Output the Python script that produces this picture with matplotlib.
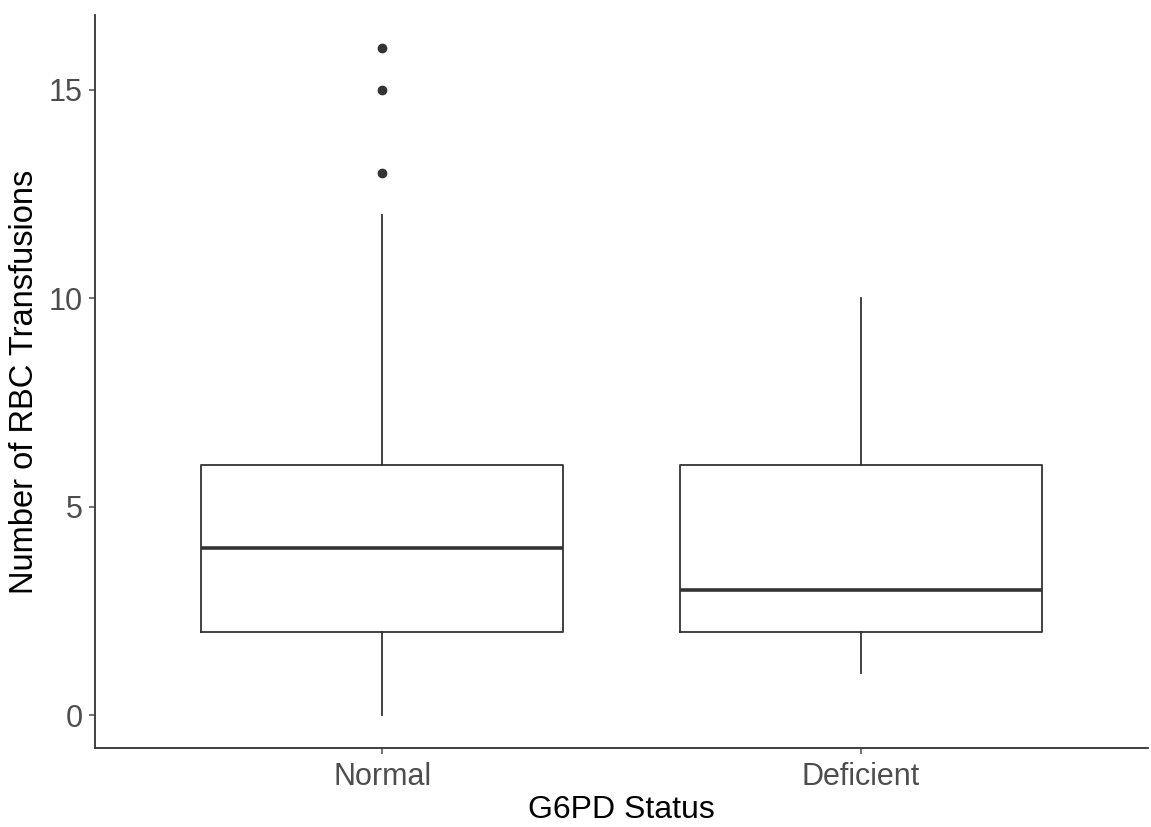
import matplotlib
matplotlib.use("Agg")
import matplotlib.pyplot as plt

# G6PD status groups and the boxplot summary
groups = ["Normal", "Deficient"]
whisker_low = [0, 1]
q1 = [2, 2]
medians = [4, 3]
q3 = [6, 6]
whisker_high = [12, 10]
outliers = [[13, 15, 16], []]

y_ticks = [0, 5, 10, 15]

plt.rcParams['font.family'] = ['Liberation Sans', 'DejaVu Sans']

fig = plt.figure(figsize=(11.51, 8.27), dpi=100)
ax = fig.add_axes([0.0825, 0.0955, 0.915, 0.8865])

stats = []
for i, name in enumerate(groups):
    stats.append({
        "label": name,
        "whislo": whisker_low[i],
        "q1": q1[i],
        "med": medians[i],
        "q3": q3[i],
        "whishi": whisker_high[i],
        "fliers": outliers[i],
    })

line_col = "#333333"
ax.bxp(stats, positions=[1, 2], widths=0.757, showcaps=False,
       boxprops=dict(color=line_col, linewidth=1.3),
       whiskerprops=dict(color=line_col, linewidth=1.3),
       medianprops=dict(color=line_col, linewidth=2.6),
       flierprops=dict(marker='o', markerfacecolor=line_col,
                       markeredgecolor=line_col, markersize=6))

ax.set_xlim(0.4, 2.6)
ax.set_ylim(-0.79, 16.8)
ax.set_yticks(y_ticks)
ax.set_xticks([1, 2])
ax.set_xticklabels(groups)

for s in ["top", "right"]:
    ax.spines[s].set_visible(False)
for s in ["left", "bottom"]:
    ax.spines[s].set_color("#333333")
    ax.spines[s].set_linewidth(1.3)

ax.tick_params(axis='both', labelsize=22, colors="#4D4D4D", length=4, width=1.1)
ax.tick_params(axis='x', pad=6)
ax.tick_params(axis='y', pad=5)
ax.set_xlabel("G6PD Status", fontsize=23, color="black", labelpad=2)
ax.set_ylabel("Number of RBC Transfusions", fontsize=23.5, color="black", labelpad=6)

fig.savefig("out.png", dpi=100)
